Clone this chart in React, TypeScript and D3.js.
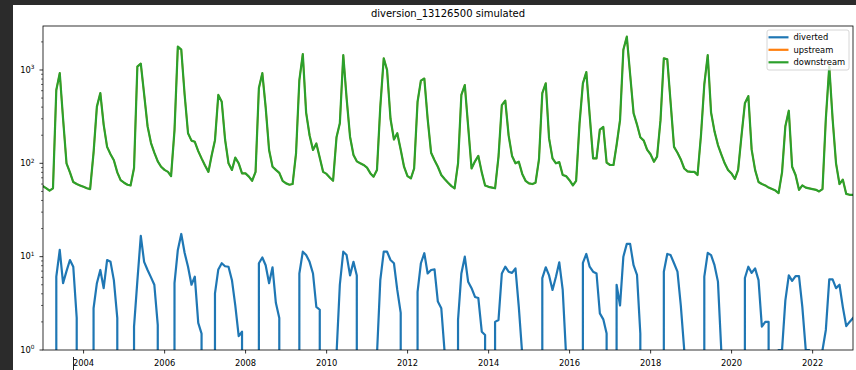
import React from "react";
import * as d3 from "d3";

const W = 856;
const H = 370;
const TITLE = "diversion_13126500 simulated";
const SERIES_NAMES = ["diverted", "upstream", "downstream"];
const SERIES_COLORS = ["#1f77b4", "#ff7f0e", "#2ca02c"];

// monthly values, first point = end of Dec 2002, then one row per year (Jan..Dec)
const downstream = [
  57,
  54, 51, 54, 610, 925, 300, 100, 80, 63, 60, 58, 56,
  54, 53, 130, 405, 565, 260, 150, 125, 108, 80, 66, 62,
  59, 58, 89, 1085, 1170, 550, 250, 165, 130, 105, 92, 85,
  81, 73, 227, 1780, 1650, 550, 210, 175, 170, 135, 113, 95,
  81, 120, 177, 540, 457, 180, 100, 85, 115, 100, 78, 78,
  72, 65, 81, 640, 925, 400, 139, 92, 85, 79, 65, 61,
  59, 60, 128, 780, 1480, 350, 200, 139, 163, 115, 81, 77,
  70, 65, 190, 268, 1440, 500, 193, 123, 105, 100, 96, 90,
  78, 72, 85, 405, 1335, 1000, 300, 180, 210, 140, 92, 73,
  69, 88, 457, 770, 810, 300, 130, 108, 92, 75, 68, 62,
  57, 54, 100, 540, 690, 250, 88, 105, 120, 80, 58, 56,
  55, 54, 118, 420, 470, 200, 120, 100, 104, 77, 65, 61,
  60, 62, 110, 565, 720, 185, 113, 100, 103, 75, 73, 66,
  58, 65, 270, 720, 950, 330, 113, 113, 230, 245, 102, 96,
  96, 157, 290, 1650, 2275, 900, 345, 260, 190, 175, 140, 125,
  104, 118, 290, 1335, 1300, 450, 150, 130, 110, 88, 82, 81,
  81, 75, 200, 700, 1440, 350, 220, 157, 125, 100, 85, 78,
  68, 85, 200, 440, 525, 140, 85, 63, 60, 58, 55, 53,
  51, 48, 80, 250, 366, 92, 75, 52, 58, 55, 54, 53,
  52, 50, 53, 300, 1085, 300, 100, 60, 67, 47, 46, 46,
];

const diverted = [
  0,
  0, 0, 0, 6.1, 11.8, 5.2, 7.0, 9.2, 7.8, 2.2, 0, 0,
  0, 0, 2.8, 5.2, 7.2, 4.6, 9.2, 8.8, 5.6, 2.2, 0, 0,
  0, 0, 1.78, 5.5, 16.7, 8.8, 7.2, 6.0, 5.0, 1.85, 0, 0,
  0, 0, 5.2, 11.8, 17.5, 11, 7.8, 5.0, 6.1, 1.95, 1.5, 0,
  0, 0, 4.05, 7.3, 8.5, 7.9, 7.8, 5.6, 3.0, 1.41, 1.57, 0,
  0, 0, 0, 8.5, 9.8, 8.1, 5.2, 7.7, 3.2, 2.2, 0, 0,
  0, 0, 0, 6.6, 11.3, 10.4, 8.8, 6.6, 2.9, 2.7, 0, 0,
  0, 0, 0.9, 5.0, 11.3, 10.4, 6.3, 8.8, 6.3, 0, 0, 0,
  0, 0, 0.9, 5.6, 11.3, 11.3, 9.2, 8.5, 4.4, 2.5, 0, 0,
  0, 0, 4.2, 8.5, 10.9, 6.6, 7.2, 7.3, 3.3, 2.8, 0.95, 0,
  0, 0, 2.1, 6.6, 10, 5.4, 4.6, 3.7, 3.6, 1.57, 1.45, 0,
  0, 2.0, 2.1, 6.6, 7.8, 6.9, 6.7, 7.5, 2.9, 0.9, 0, 0,
  0, 0, 0, 5.9, 7.7, 6.3, 4.4, 6.1, 8.7, 4.4, 0.9, 0,
  0, 0, 0, 8.6, 10.7, 7.8, 6.9, 6.6, 2.47, 2.13, 1.5, 0,
  0, 5.0, 3.0, 10, 13.7, 13.7, 8.1, 6.4, 1.5, 0, 0, 0,
  0, 0, 0, 6.9, 10.7, 10.4, 8.5, 6.9, 3.0, 1.0, 0, 0,
  0, 0, 0, 6.1, 11, 10.4, 8.1, 5.4, 1.0, 0, 0, 0,
  0, 0, 0, 5.9, 7.8, 6.7, 7.5, 5.6, 1.78, 2.0, 2.0, 0,
  0, 1.0, 1.0, 3.4, 6.3, 5.5, 6.2, 6.2, 2.9, 1.0, 1.0, 0,
  0, 0, 1.0, 1.64, 5.7, 5.7, 4.6, 5.0, 2.9, 1.8, 2.0, 2.2,
];

// upstream coincides with downstream in the reference (hidden beneath it)
const upstream = downstream;

const Y_MAJOR = [1, 10, 100, 1000];
const Y_EXP = ["0", "1", "2", "3"];
const X_TICK_YEARS = [2004, 2006, 2008, 2010, 2012, 2014, 2016, 2018, 2020, 2022];

const dates = downstream.map((_, i) => new Date(2003, i, 0));

const L = 43, R = 853, T = 26, B = 350;
const FONT = "DejaVu Sans, Liberation Sans, sans-serif";

export default function App() {
  const x = d3.scaleTime().domain([dates[0], dates[dates.length - 1]]).range([L, R]);
  const y = d3.scaleLog().domain([1, 2960]).range([B, T]);
  const yPos = (v: number) => (v > 0 ? y(v) : B + 100000);

  const line = d3
    .line<number>()
    .x((_, i) => x(dates[i]))
    .y((v) => yPos(v));

  const series = [diverted, upstream, downstream];
  const widths = [2.2, 1.6, 2.2];

  const minor: number[] = [];
  [1, 10, 100, 1000].forEach((d) => {
    for (let k = 2; k <= 9; k++) {
      const v = d * k;
      if (v <= 2960) minor.push(v);
    }
  });

  const legX = 767, legY = 30, legW = 82, legH = 40;

  return (
    <div style={{ position: "absolute", left: 0, top: 0 }}>
      <svg width={W} height={H} style={{ display: "block" }} fontFamily={FONT}>
        <rect x={0} y={0} width={W} height={H} fill="#2b2b2b" />
        <rect x={13} y={5} width={W - 13} height={H - 5} fill="#ffffff" />
        <defs>
          <clipPath id="plotclip">
            <rect x={L} y={T} width={R - L} height={B - T} />
          </clipPath>
        </defs>
        <text x={(L + R) / 2} y={17} textAnchor="middle" fontSize={10} fill="#000">
          {TITLE}
        </text>
        <g clipPath="url(#plotclip)">
          {series.map((s, si) => (
            <path
              key={si}
              d={line(s) || ""}
              fill="none"
              stroke={SERIES_COLORS[si]}
              strokeWidth={widths[si]}
              strokeLinejoin="round"
              strokeLinecap="square"
            />
          ))}
        </g>
        {/* spines */}
        <rect x={L} y={T} width={R - L} height={B - T} fill="none" stroke="#000" strokeWidth={0.8} />
        {/* y ticks */}
        {Y_MAJOR.map((v, i) => (
          <g key={"ym" + v}>
            <line x1={L - 3.5} x2={L} y1={y(v)} y2={y(v)} stroke="#000" strokeWidth={0.8} />
            <text x={34.5} y={y(v) + 2.8} textAnchor="end" fontSize={8.33} fill="#000">
              10
              <tspan fontSize={5.8} dy={-3.6}>
                {Y_EXP[i]}
              </tspan>
            </text>
          </g>
        ))}
        {minor.map((v) => (
          <line key={"yn" + v} x1={L - 2} x2={L} y1={y(v)} y2={y(v)} stroke="#000" strokeWidth={0.6} />
        ))}
        {/* x ticks */}
        {X_TICK_YEARS.map((yr) => {
          const px = x(new Date(yr, 0, 1));
          return (
            <g key={"x" + yr}>
              <line x1={px} x2={px} y1={B} y2={B + 3.5} stroke="#000" strokeWidth={0.8} />
              <text x={px} y={366} textAnchor="middle" fontSize={8.33} fill="#000">
                {yr}
              </text>
            </g>
          );
        })}
        {/* cursor artifact */}
        <line x1={73.5} x2={73.5} y1={357} y2={370} stroke="#222" strokeWidth={1} />
        {/* legend */}
        <rect x={legX} y={legY} width={legW} height={legH} rx={2} fill="#fff" fillOpacity={0.8} stroke="#cccccc" strokeWidth={0.8} />
        {SERIES_NAMES.map((n, i) => {
          const ly = 37.3 + i * 12.5;
          return (
            <g key={n}>
              <line x1={768.5} x2={788.5} y1={ly} y2={ly} stroke={SERIES_COLORS[i]} strokeWidth={2.2} />
              <text x={793.5} y={ly + 3} fontSize={8.33} fill="#000">
                {n}
              </text>
            </g>
          );
        })}
      </svg>
    </div>
  );
}
